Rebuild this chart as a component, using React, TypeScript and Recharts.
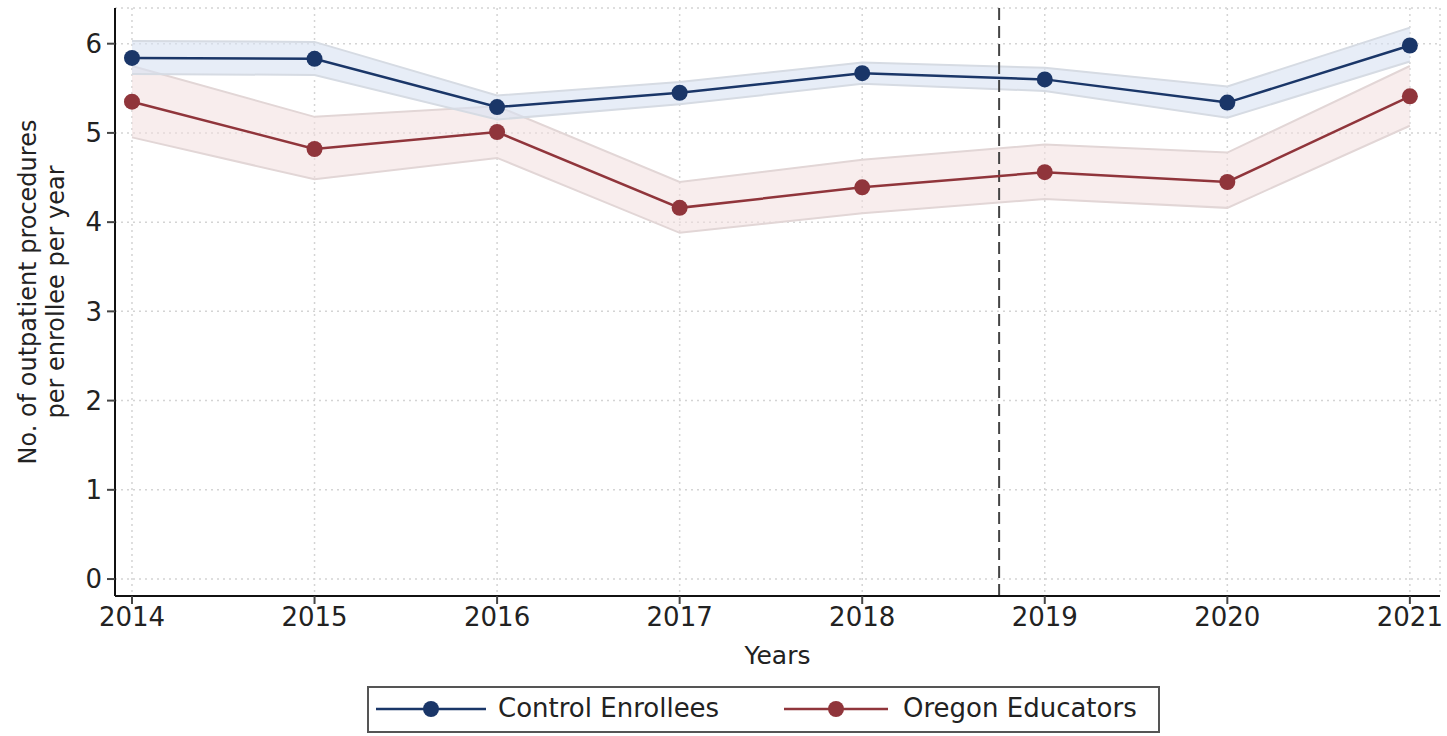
import React from 'react';
import {
  ComposedChart, Line, Area, XAxis, YAxis, CartesianGrid, ReferenceLine,
} from 'recharts';

const years = [2014, 2015, 2016, 2017, 2018, 2019, 2020, 2021];
const controlMean = [5.84, 5.83, 5.29, 5.45, 5.67, 5.60, 5.34, 5.98];
const controlLow = [5.66, 5.65, 5.15, 5.32, 5.55, 5.47, 5.17, 5.80];
const controlHigh = [6.03, 6.02, 5.42, 5.57, 5.79, 5.73, 5.52, 6.18];
const oregonMean = [5.35, 4.82, 5.01, 4.16, 4.39, 4.56, 4.45, 5.41];
const oregonLow = [4.95, 4.48, 4.72, 3.88, 4.10, 4.26, 4.16, 5.08];
const oregonHigh = [5.75, 5.18, 5.30, 4.45, 4.70, 4.87, 4.78, 5.75];
const yTicks = [0, 1, 2, 3, 4, 5, 6];
const policyYear = 2018.75;

const NAVY = '#1a3668';
const MAROON = '#90353b';
const FONT = '"DejaVu Sans", sans-serif';

const data = years.map((year, i) => ({
  year,
  control: controlMean[i],
  controlCI: [controlLow[i], controlHigh[i]],
  oregon: oregonMean[i],
  oregonCI: [oregonLow[i], oregonHigh[i]],
}));

// legend slots: sample line start/end, text start (px, page coords)
const series = [
  { key: 'control', name: 'Control Enrollees', color: NAVY, x0: 376, x1: 486, tx: 498 },
  { key: 'oregon', name: 'Oregon Educators', color: MAROON, x0: 784, x1: 888, tx: 903 },
];

const YLabel = () => (
  <g fontFamily={FONT} fontSize={24} fill="#222">
    <text x={28} y={292} transform="rotate(-90 28 292)" textAnchor="middle" dominantBaseline="central">
      No. of outpatient procedures
    </text>
    <text x={56} y={292} transform="rotate(-90 56 292)" textAnchor="middle" dominantBaseline="central">
      per enrollee per year
    </text>
  </g>
);

const LegendBox = () => (
  <div
    style={{
      position: 'absolute', left: 367, top: 686, width: 793, height: 47,
      border: '2px solid #555', boxSizing: 'border-box', background: '#fff',
      fontFamily: FONT, fontSize: 26, color: '#222',
    }}
  >
    {series.map((s) => (
      <React.Fragment key={s.key}>
        <svg width={s.x1 - s.x0} height={20} style={{ position: 'absolute', left: s.x0 - 369, top: 11 }}>
          <line x1={0} y1={10} x2={s.x1 - s.x0} y2={10} stroke={s.color} strokeWidth={2.5} />
          <circle cx={(s.x1 - s.x0) / 2} cy={10} r={8} fill={s.color} />
        </svg>
        <span style={{ position: 'absolute', left: s.tx - 369, top: 5, lineHeight: '30px' }}>{s.name}</span>
      </React.Fragment>
    ))}
  </div>
);

export default function App() {
  return (
    <div style={{ position: 'absolute', left: 0, top: 0, width: 1447, height: 736, background: '#fff', overflow: 'hidden' }}>
      <ComposedChart
        width={1447}
        height={736}
        data={data}
        margin={{ top: 8, right: 7, left: 0, bottom: 0 }}
      >
        <CartesianGrid stroke="#d4d4d4" strokeDasharray="2 4" strokeWidth={1.5} />
        <XAxis
          dataKey="year"
          type="number"
          domain={[2013.907, 2021.165]}
          ticks={years}
          allowDataOverflow
          height={140}
          axisLine={{ stroke: '#111', strokeWidth: 2 }}
          tickLine={{ stroke: '#444', strokeWidth: 2 }}
          tickSize={8}
          tickMargin={4}
          tick={{ fontFamily: FONT, fontSize: 26, fill: '#222' }}
          label={{ value: 'Years', position: 'insideTop', offset: 50, style: { fontFamily: FONT, fontSize: 25, fill: '#222' } }}
        />
        <YAxis
          type="number"
          domain={[-0.19, 6.4]}
          ticks={yTicks}
          allowDataOverflow
          width={115}
          axisLine={{ stroke: '#111', strokeWidth: 2 }}
          tickLine={{ stroke: '#444', strokeWidth: 2 }}
          tickSize={8}
          tickMargin={5}
          tick={{ fontFamily: FONT, fontSize: 26, fill: '#222' }}
          label={{ content: () => <YLabel /> }}
        />
        <Area
          dataKey="oregonCI"
          type="linear"
          stroke="#e2d6d6"
          strokeWidth={2}
          fill="#f3dede"
          fillOpacity={0.55}
          isAnimationActive={false}
          activeDot={false}
        />
        <Area
          dataKey="controlCI"
          type="linear"
          stroke="#d6dbe3"
          strokeWidth={2}
          fill="#d7e1f1"
          fillOpacity={0.6}
          isAnimationActive={false}
          activeDot={false}
        />
        <ReferenceLine x={policyYear} stroke="#444" strokeWidth={2} strokeDasharray="12 6" />
        {series.map((s) => (
          <Line
            key={s.key}
            dataKey={s.key}
            type="linear"
            stroke={s.color}
            strokeWidth={2.5}
            dot={{ r: 8, fill: s.color, stroke: s.color, strokeWidth: 0 }}
            activeDot={false}
            isAnimationActive={false}
          />
        ))}
      </ComposedChart>
      <LegendBox />
    </div>
  );
}
